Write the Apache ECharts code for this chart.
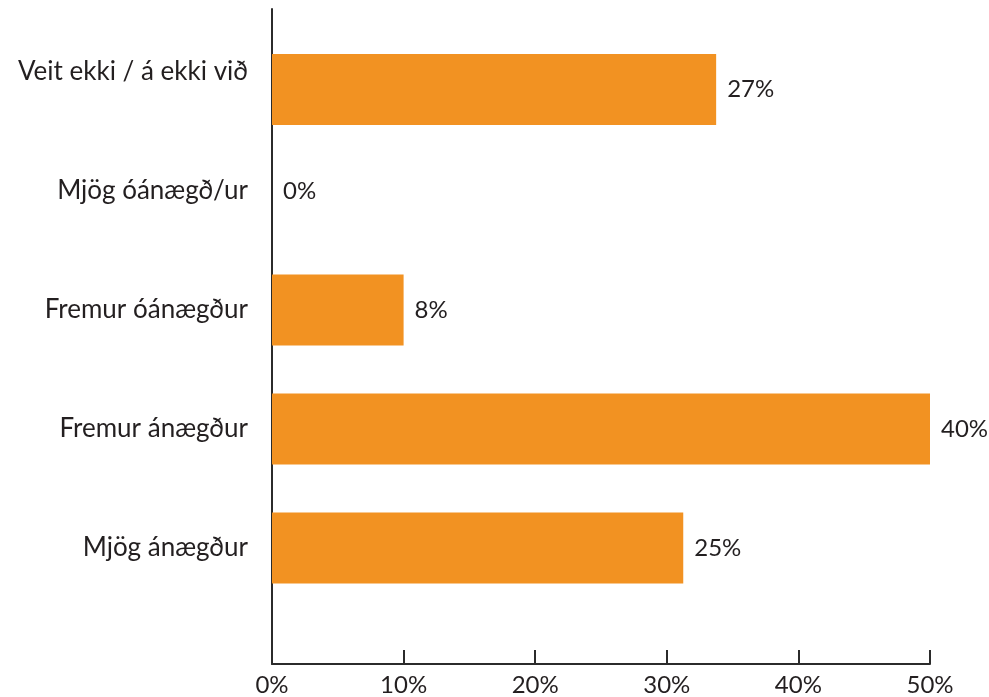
<!DOCTYPE html>
<html>
<head>
<meta charset="utf-8">
<script src="https://cdn.jsdelivr.net/npm/echarts@6/dist/echarts.min.js"></script>
<style>
html,body{margin:0;padding:0;background:#fff;}
#chart{width:989px;height:697px;}
</style>
</head>
<body>
<div id="chart"></div>
<script>
var categories = ['Veit ekki / á ekki við', 'Mjög óánægð/ur', 'Fremur óánægður', 'Fremur ánægður', 'Mjög ánægður'];
var values = [27, 0, 8, 40, 25];
var tickLabels = ['0%', '10%', '20%', '30%', '40%', '50%'];
var axisMax = 40;
var axisStep = 8;

var FONT = 'Lato';
var TEXT = '#231f20';
var BAR = '#f29222';

// In the reference the first bar sits slightly lower than its label; it is drawn on a twin, shifted category axis.
var firstOnly = values.map(function (v, i) { return i === 0 ? v : '-'; });
var restOnly = values.map(function (v, i) { return i === 0 ? '-' : v; });

var labelOpt = {
  show: true, position: 'right', distance: 11,
  color: TEXT, fontFamily: FONT, fontSize: 24,
  formatter: function (p) { return p.value + '%'; }
};

var chart = echarts.init(document.getElementById('chart'), null, {renderer: 'canvas'});
chart.setOption({
  animation: false,
  backgroundColor: '#ffffff',
  grid: [
    {left: 272, right: 59, top: 12.5, height: 595, containLabel: false},
    {left: 272, right: 59, top: 9, bottom: 33, containLabel: false},
    {left: 272, right: 59, top: 30, height: 595, containLabel: false}
  ],
  xAxis: [
    {gridIndex: 0, type: 'value', min: 0, max: axisMax, interval: axisStep, show: false},
    {gridIndex: 1, type: 'value', min: 0, max: axisMax, interval: axisStep,
      axisLine: {show: true, lineStyle: {color: '#2b2b2b', width: 2}},
      axisTick: {show: true, inside: true, length: 14, lineStyle: {color: '#2b2b2b', width: 2}},
      splitLine: {show: false},
      axisLabel: {
        margin: 9, color: TEXT, fontFamily: FONT, fontSize: 24,
        formatter: function (v) { return tickLabels[Math.round(v / axisStep)]; }
      }
    },
    {gridIndex: 2, type: 'value', min: 0, max: axisMax, interval: axisStep, show: false}
  ],
  yAxis: [
    {gridIndex: 0, type: 'category', data: categories, inverse: true,
      axisLine: {show: false}, axisTick: {show: false}, splitLine: {show: false},
      axisLabel: {margin: 24, color: TEXT, fontFamily: FONT, fontSize: 26}
    },
    {gridIndex: 1, type: 'value', min: 0, max: 1,
      axisLine: {show: true, lineStyle: {color: '#2b2b2b', width: 2}},
      axisTick: {show: false}, axisLabel: {show: false}, splitLine: {show: false}
    },
    {gridIndex: 2, type: 'category', data: categories, inverse: true, show: false}
  ],
  series: [
    {
      type: 'bar', name: 'rest',
      xAxisIndex: 0, yAxisIndex: 0,
      data: restOnly,
      barWidth: 71,
      itemStyle: {color: BAR},
      label: labelOpt
    },
    {
      type: 'bar', name: 'first',
      xAxisIndex: 2, yAxisIndex: 2,
      data: firstOnly,
      barWidth: 71,
      itemStyle: {color: BAR},
      label: labelOpt
    }
  ]
});
</script>
</body>
</html>
